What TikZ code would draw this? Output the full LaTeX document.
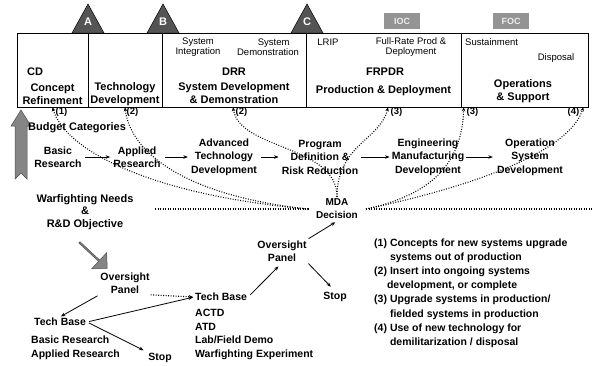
\documentclass[tikz,border=0pt]{standalone}
\usepackage{fontspec}
\setmainfont{Liberation Sans}
\usetikzlibrary{arrows.meta,shapes.arrows,calc}
\definecolor{trigray}{gray}{0.33}
\definecolor{boxgray}{gray}{0.58}
\definecolor{arrgray}{gray}{0.52}
\begin{document}
\begin{tikzpicture}[x=1pt,y=-1pt,
 big/.style={font=\fontsize{11}{13}\selectfont\bfseries,align=center,inner sep=1pt},
 sm/.style={font=\fontsize{9.5}{10.5}\selectfont,align=center,inner sep=1pt},
 stg/.style={font=\fontsize{10.5}{13.5}\selectfont\bfseries,align=center,inner sep=1pt},
 num/.style={font=\fontsize{9.5}{11}\selectfont\bfseries,inner sep=0.5pt},
 cell/.style={draw=black,line width=0.6pt,inner sep=0pt,minimum height=74pt},
 flow/.style={-{Stealth[length=4.5pt,width=3.5pt]},line width=0.8pt},
 dotl/.style={line width=1.1pt,dash pattern=on 0.9pt off 1.6pt},
 dotflow/.style={dotl,-{Stealth[length=4pt,width=3.5pt]}},
 tri/.style={fill=trigray,draw=black,line width=0.5pt},
 milestone/.style={fill=boxgray,minimum width=36pt,minimum height=16pt,inner sep=0pt,
   font=\fontsize{9}{10}\selectfont\bfseries,text=white!85!gray},
 letter/.style={font=\fontsize{11}{12}\selectfont\bfseries,text=white,inner sep=0pt}]
\useasboundingbox (0,0) rectangle (593,365);

% milestone triangles
\fill[tri] (72,33) -- (88,4) -- (104,33) -- cycle;
\node[letter] (lA) at (88,22) {A};
\fill[tri] (147,33) -- (163,4) -- (179,33) -- cycle;
\node[letter] (lB) at (163,22) {B};
\fill[tri] (291,33) -- (307,4) -- (323,33) -- cycle;
\node[letter] (lC) at (307,22) {C};
\node[milestone] (ioc) at (402,21) {IOC};
\node[milestone] (foc) at (511,21) {FOC};

% phase cells
\node[cell,minimum width=71pt]  (cd)  at (52.5,70) {};
\node[cell,minimum width=74pt]  (td)  at (125,70) {};
\node[cell,minimum width=144pt] (sdd) at (234,70) {};
\node[cell,minimum width=155pt] (pd)  at (383.5,70) {};
\node[cell,minimum width=127pt] (os)  at (524.5,70) {};

\node[big,anchor=west] (cdl) at (26,72) {CD};
\node[big] (cdt) at (52.5,94) {Concept\\Refinement};
\node[big] (tdt) at (125,94) {Technology\\Development};
\node[sm] (si) at (198,47) {System\\Integration};
\node[sm] (sdm) at (268,47) {\hspace*{1.2em}System\\Demonstration};
\node[big] (drr) at (234,72) {DRR};
\node[big] (sddt) at (234,93.5) {System Development\\\& Demonstration};
\node[sm] (lrip) at (328,42) {LRIP};
\node[sm] (frp) at (411,47) {Full-Rate Prod \&\\Deployment};
\node[big] (frpdr) at (385,72) {FRPDR};
\node[big] (pdt) at (383.5,91) {Production \& Deployment};
\node[sm,anchor=west] (sus) at (464,42) {Sustainment};
\node[sm] (disp) at (556,58) {Disposal};
\node[big] (ost) at (523,91.5) {Operations\\\& Support};

% budget arrow
\filldraw[fill=arrgray,draw=black!70,line width=0.5pt]
 (21,110) -- (31,126) -- (27,126) -- (27,179) -- (21,173) -- (15,179) -- (15,126) -- (11,126) -- cycle;
\node[big,anchor=west] (bud) at (27,128) {Budget Categories};

% stages
\node[stg] (br)   at (58,157)  {Basic\\Research};
\node[stg] (ar)   at (137,157) {Applied\\Research};
\node[stg] (atd)  at (224,157) {Advanced\\Technology\\Development};
\node[stg] (pdrr) at (320,157) {Program\\Definition \&\\Risk Reduction};
\node[stg] (emd)  at (428,157) {Engineering\\Manufacturing\\Development};
\node[stg] (osd)  at (530,157) {Operation\\System\\Development};
\draw[flow,shorten <=2pt,shorten >=2pt] (br.east) -- (ar.west);
\draw[flow,shorten <=3pt,shorten >=2pt] (ar.east) -- (atd.west);
\draw[flow,shorten <=3pt,shorten >=2pt] (atd.east) -- (pdrr.west);
\draw[flow,shorten <=2pt,shorten >=1pt] (pdrr.east) -- (emd.west);
\draw[flow,shorten <=1pt,shorten >=3pt] (emd.east) -- (osd.west);

% warfighting and MDA
\node[big,font=\fontsize{11}{12.3}\selectfont\bfseries] (wf) at (85,212) {Warfighting Needs\\\&\\R\&D Objective};
\node[stg,font=\fontsize{10}{13}\selectfont\bfseries,inner xsep=8pt,inner ysep=2pt] (mda) at (337,209) {MDA\\Decision};
\coordinate (wfline) at (155,209);
\coordinate (rend) at (593,209);
\draw[dotl] (wfline) -- (mda.west);
\draw[dotl] (mda.east) -- (rend);

% dotted feedback curves
\draw[dotflow] (mda.west) .. controls (150,195) and (65,150) .. (cd.south);
\draw[dotflow] (mda.west) .. controls (180,195) and (130,150) .. (td.south);
\draw[dotflow] (mda.north) .. controls (337,145) and (240,150) .. ($(sdd.south)+(-1,0)$);
\draw[dotflow] (mda.north) .. controls (337,145) and (380,140) .. ($(pd.south)+(4.5,0)$);
\draw[dotflow] (mda.east) .. controls (430,195) and (462,165) .. ($(os.south west)+(3,0)$);
\draw[dotflow] (mda.east) .. controls (480,185) and (570,150) .. ($(os.south east)+(-5,0)$);
\node[num,anchor=west] (n1) at (55,112) {(1)};
\node[num,anchor=west] (n2) at (126,112) {(2)};
\node[num,anchor=west] (n2b) at (235,112) {(2)};
\node[num,anchor=west] (n3) at (390,112) {(3)};
\node[num,anchor=west] (n3b) at (466,112) {(3)};
\node[num,anchor=east] (n4) at (580,112) {(4)};

% oversight (right)
\node[stg] (opR) at (282,251) {Oversight\\Panel};
\node[stg] (stopR) at (335,297) {Stop};
\draw[flow,shorten <=1pt,shorten >=2pt] (opR.north east) -- (mda.south);
\draw[flow,shorten <=1pt,shorten >=6pt] (opR.south east) -- (stopR.north);

% left part
\node[single arrow,fill=arrgray,draw=black!70,line width=0.5pt,minimum height=38pt,
  minimum width=22pt,single arrow head extend=3pt,rotate=-43,inner sep=0pt] (wfarrow) at (93,255) {};
\node[stg] (opL) at (125,283) {Oversight\\Panel};
\node[big,font=\fontsize{10.5}{13}\selectfont\bfseries] (tbL) at (60,322) {Tech Base};
\node[big,font=\fontsize{10.5}{13.7}\selectfont\bfseries,align=left,anchor=north west] (tbLl) at (30,335) {Basic Research\\Applied Research};
\node[big,font=\fontsize{10.5}{13}\selectfont\bfseries] (stopL) at (160,358) {Stop};
\node[big,font=\fontsize{10.5}{13}\selectfont\bfseries,anchor=west] (tbM) at (194,297) {Tech Base};
\node[big,font=\fontsize{10.5}{13.7}\selectfont\bfseries,align=left,anchor=north west] (tbMl) at (194,308) {ACTD\\ATD\\Lab/Field Demo\\Warfighting Experiment};
\draw[flow,shorten <=2pt,shorten >=1pt] (opL.south west) -- (tbL.north);
\draw[flow,shorten <=2pt,shorten >=4pt] (tbL.east) -- (stopL.north west);
\draw[flow,shorten <=2pt,shorten >=1pt] (tbL.east) -- (tbM.west);
\draw[dotl,-{Stealth[length=4.5pt,width=3.5pt]},shorten >=1pt] (opL.south east) -- (tbM.west);
\draw[flow,shorten <=3pt,shorten >=5pt] (tbM.east) -- (opR.south);

% legend
\node[anchor=north west,inner sep=0pt,font=\fontsize{10.5}{14.2}\selectfont\bfseries] (legend) at (374,236)
 {\begin{tabular}{@{}l@{\hspace{3pt}}l@{}}
 (1) & Concepts for new systems upgrade\\
     & systems out of production\\
 (2) & Insert into ongoing systems\\
     & \hspace*{-3pt}development, or complete\\
 (3) & Upgrade systems in production/\\
     & fielded systems in production\\
 (4) & Use of new technology for\\
     & demilitarization / disposal
 \end{tabular}};
\end{tikzpicture}
\end{document}
